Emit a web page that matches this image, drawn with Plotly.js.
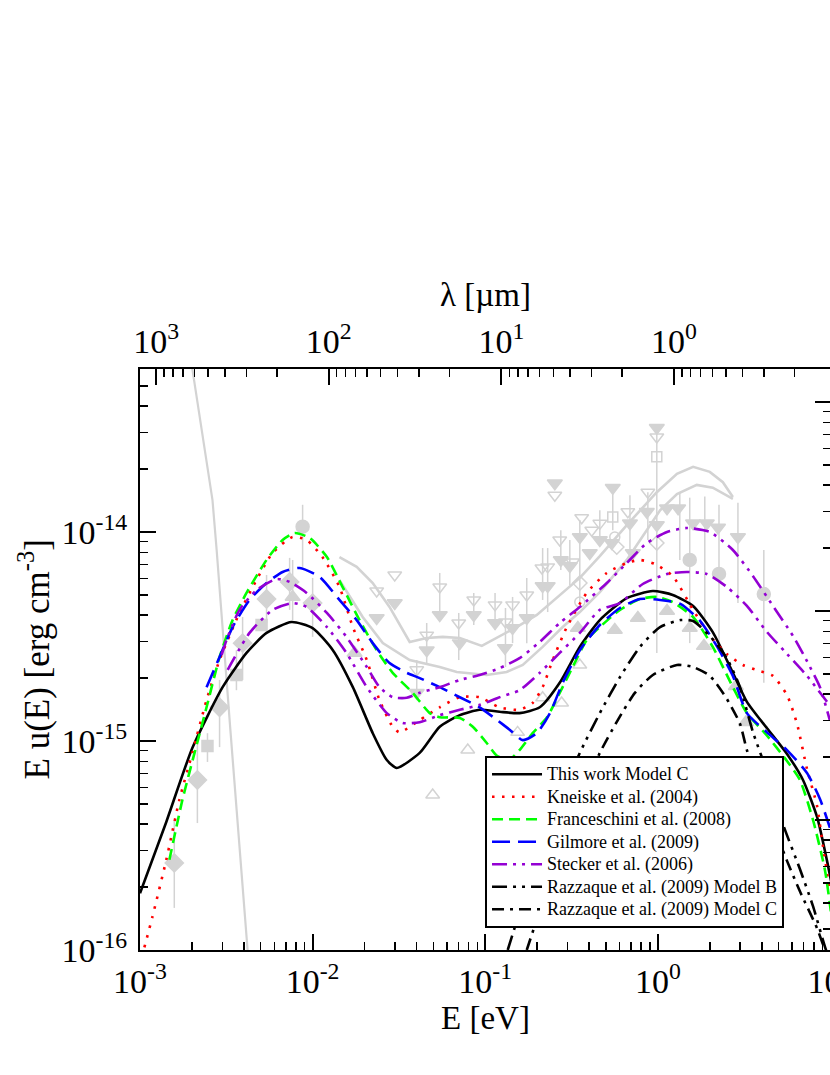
<!DOCTYPE html>
<html>
<head>
<meta charset="utf-8">
<script src="https://cdn.plot.ly/plotly-3.0.1.min.js"></script>
<style>
  html, body { margin: 0; padding: 0; background: #fff; overflow: hidden; }
  #ebl { width: 860px; height: 1075px; }
</style>
</head>
<body>
<div id="ebl"></div>
<script>
// model curves: photon energy E [eV] and E u(E) [erg cm^-3]
const eThis = [1.0e-3, 1.42e-3, 2.01e-3, 3.01e-3, 4.14e-3, 5.41e-3, 7.55e-3, 1.0e-2, 1.31e-2, 1.71e-2, 2.23e-2, 2.69e-2, 3.07e-2, 4.17e-2, 5.45e-2, 7.12e-2, 9.29e-2, 0.121, 0.158, 0.207, 0.270, 0.353, 0.461, 0.661, 0.935, 1.22, 1.60, 2.08, 2.72, 3.28, 4.29, 5.60, 6.93, 8.36, 9.55, 10.6];
const uThis = [1.87e-16, 4.10e-16, 9.26e-16, 1.81e-15, 2.64e-15, 3.29e-15, 3.71e-15, 3.47e-15, 2.72e-15, 1.81e-15, 1.09e-15, 8.11e-16, 7.43e-16, 8.77e-16, 1.17e-15, 1.33e-15, 1.41e-15, 1.38e-15, 1.36e-15, 1.45e-15, 1.90e-15, 2.82e-15, 3.79e-15, 4.83e-15, 5.22e-15, 5.00e-15, 4.43e-15, 3.32e-15, 2.12e-15, 1.54e-15, 1.15e-15, 8.67e-16, 6.51e-16, 4.33e-16, 2.67e-16, 1.73e-16];

const eKneiske = [1.06e-3, 1.18e-3, 1.42e-3, 1.69e-3, 2.01e-3, 2.43e-3, 2.89e-3, 3.77e-3, 4.73e-3, 5.86e-3, 7.66e-3, 9.23e-3, 1.14e-2, 1.43e-2, 1.71e-2, 2.06e-2, 2.44e-2, 2.91e-2, 3.19e-2, 4.17e-2, 5.45e-2, 7.12e-2, 9.29e-2, 0.121, 0.158, 0.188, 0.215, 0.246, 0.297, 0.387, 0.506, 0.661, 0.787, 0.961, 1.22, 1.60, 2.00, 2.51, 3.11, 3.90, 4.64, 5.60, 6.40, 7.31, 8.36, 9.06, 9.93];
const uKneiske = [1.03e-16, 1.44e-16, 2.70e-16, 5.22e-16, 8.77e-16, 1.57e-15, 2.44e-15, 4.10e-15, 5.89e-15, 7.94e-15, 9.47e-15, 9.16e-15, 7.59e-15, 5.46e-15, 3.51e-15, 2.44e-15, 1.57e-15, 1.17e-15, 1.10e-15, 1.26e-15, 1.45e-15, 1.62e-15, 1.62e-15, 1.45e-15, 1.41e-15, 1.52e-15, 1.81e-15, 2.44e-15, 3.51e-15, 5.11e-15, 6.37e-15, 7.11e-15, 7.35e-15, 7.03e-15, 6.15e-15, 4.24e-15, 3.18e-15, 2.61e-15, 2.31e-15, 2.16e-15, 2.05e-15, 1.66e-15, 1.21e-15, 7.35e-16, 4.89e-16, 3.11e-16, 1.91e-16];

const eFranceschini = [1.48e-3, 1.76e-3, 2.07e-3, 2.43e-3, 2.89e-3, 3.44e-3, 4.14e-3, 5.41e-3, 6.70e-3, 7.87e-3, 9.62e-3, 1.21e-2, 1.49e-2, 1.87e-2, 2.35e-2, 2.91e-2, 3.80e-2, 4.77e-2, 5.45e-2, 7.12e-2, 8.47e-2, 0.102, 0.117, 0.139, 0.158, 0.188, 0.228, 0.270, 0.321, 0.387, 0.461, 0.603, 0.787, 0.986, 1.22, 1.60, 2.08, 2.72, 3.28, 4.29, 5.60, 6.65, 7.92, 9.29, 10.2];
const uFranceschini = [2.70e-16, 5.22e-16, 8.77e-16, 1.45e-15, 2.52e-15, 3.79e-15, 5.11e-15, 7.35e-15, 9.16e-15, 9.89e-15, 9.36e-15, 7.59e-15, 5.46e-15, 3.79e-15, 2.72e-15, 2.12e-15, 1.70e-15, 1.36e-15, 1.30e-15, 1.29e-15, 1.17e-15, 9.78e-16, 8.5e-16, 8.2e-16, 9.05e-16, 1.09e-15, 1.30e-15, 1.70e-15, 2.26e-15, 3.04e-15, 3.51e-15, 4.24e-15, 4.78e-15, 4.89e-15, 4.62e-15, 3.92e-15, 2.82e-15, 1.81e-15, 1.36e-15, 1.06e-15, 8.02e-16, 6.51e-16, 4.19e-16, 2.41e-16, 1.39e-16];

const eGilmore = [2.43e-3, 2.89e-3, 3.44e-3, 4.31e-3, 5.41e-3, 6.70e-3, 8.41e-3, 1.10e-2, 1.43e-2, 1.80e-2, 2.23e-2, 2.79e-2, 3.51e-2, 4.17e-2, 5.45e-2, 7.12e-2, 9.29e-2, 0.117, 0.139, 0.165, 0.199, 0.237, 0.281, 0.353, 0.461, 0.603, 0.787, 1.03, 1.35, 1.76, 2.21, 2.72, 3.28, 4.29, 5.60, 7.31, 8.69, 9.93];
const uGilmore = [1.81e-15, 2.52e-15, 3.51e-15, 4.73e-15, 5.70e-15, 6.44e-15, 6.73e-15, 6.09e-15, 4.73e-15, 3.79e-15, 2.94e-15, 2.36e-15, 2.12e-15, 2.00e-15, 1.81e-15, 1.62e-15, 1.45e-15, 1.26e-15, 1.13e-15, 1.01e-15, 1.09e-15, 1.36e-15, 1.90e-15, 2.72e-15, 3.59e-15, 4.33e-15, 4.78e-15, 4.73e-15, 4.53e-15, 3.75e-15, 2.82e-15, 2.05e-15, 1.36e-15, 1.10e-15, 9.05e-16, 7.03e-16, 5.28e-16, 3.84e-16];

const eSteckerHigh = [2.97e-3, 3.17e-3, 3.77e-3, 4.73e-3, 6.18e-3, 7.36e-3, 9.23e-3, 1.21e-2, 1.57e-2, 2.06e-2, 2.44e-2, 2.91e-2, 3.51e-2, 4.17e-2, 5.45e-2, 7.12e-2, 9.29e-2, 0.121, 0.158, 0.207, 0.270, 0.353, 0.506, 0.661, 0.863, 1.13, 1.47, 2.00, 2.72, 3.56, 4.64, 6.07, 7.31, 8.69, 9.93];
const uSteckerHigh = [2.58e-15, 3.04e-15, 4.24e-15, 5.27e-15, 5.96e-15, 5.77e-15, 5.11e-15, 4.10e-15, 3.15e-15, 2.26e-15, 1.81e-15, 1.62e-15, 1.61e-15, 1.70e-15, 1.81e-15, 1.96e-15, 2.07e-15, 2.23e-15, 2.49e-15, 2.98e-15, 3.67e-15, 4.38e-15, 5.70e-15, 7.11e-15, 8.86e-15, 1.0e-14, 1.045e-14, 1.0e-14, 8.20e-15, 6.15e-15, 4.43e-15, 3.18e-15, 2.41e-15, 1.81e-15, 1.25e-15];

const eSteckerLow = [3.22e-3, 4.31e-3, 5.86e-3, 7.66e-3, 9.23e-3, 1.21e-2, 1.57e-2, 2.06e-2, 2.69e-2, 3.32e-2, 4.17e-2, 5.45e-2, 7.12e-2, 9.29e-2, 0.121, 0.158, 0.207, 0.270, 0.353, 0.461, 0.603, 0.818, 1.13, 1.47, 1.92, 2.51, 3.28, 4.29, 5.60, 7.31, 9.55];
const uSteckerLow = [2.19e-15, 3.29e-15, 4.24e-15, 4.57e-15, 4.38e-15, 3.51e-15, 2.64e-15, 1.81e-15, 1.36e-15, 1.22e-15, 1.23e-15, 1.33e-15, 1.41e-15, 1.49e-15, 1.62e-15, 1.75e-15, 2.12e-15, 2.64e-15, 3.29e-15, 4.24e-15, 4.57e-15, 5.64e-15, 6.30e-15, 6.44e-15, 6.30e-15, 5.46e-15, 4.43e-15, 3.32e-15, 2.61e-15, 2.05e-15, 1.54e-15];

const eRazzaqueB = [0.135, 0.181, 0.253, 0.353, 0.461, 0.603, 0.787, 1.03, 1.35, 1.60, 2.00, 2.51, 2.99, 3.56, 4.46, 5.30, 6.65, 7.92, 9.42, 10.2];
const uRazzaqueB = [1.0e-16, 2.16e-16, 4.68e-16, 8.77e-16, 1.36e-15, 2.02e-15, 2.82e-15, 3.51e-15, 3.79e-15, 3.75e-15, 3.18e-15, 2.49e-15, 1.81e-15, 1.10e-15, 6.51e-16, 4.01e-16, 2.44e-16, 1.62e-16, 1.0e-16, 8.5e-17];

const eRazzaqueC = [0.174, 0.237, 0.330, 0.461, 0.586, 0.736, 0.935, 1.29, 1.60, 2.00, 2.51, 2.99, 3.28, 3.90, 4.64, 5.60, 6.65, 8.36, 9.93];
const uRazzaqueC = [1.0e-16, 2.16e-16, 4.68e-16, 8.77e-16, 1.26e-15, 1.70e-15, 2.07e-15, 2.31e-15, 2.26e-15, 2.05e-15, 1.59e-15, 1.21e-15, 9.05e-16, 6.03e-16, 4.01e-16, 2.67e-16, 1.91e-16, 1.27e-16, 8.5e-17];

// grey: CMB tail and the two upper-limit curves
const eCMB = [1.94e-3, 2.01e-3, 2.63e-3, 2.78e-3, 3.35e-3, 4.20e-3];
const uCMB = [7.85e-14, 6.03e-14, 1.42e-14, 8.20e-15, 1.09e-15, 1.0e-16];
const eLimA = [1.43e-2, 1.80e-2, 2.23e-2, 2.79e-2, 3.65e-2, 4.58e-2, 5.67e-2, 7.12e-2, 9.55e-2, 0.117, 0.152, 0.199, 0.259, 0.353, 0.461, 0.661, 0.986, 1.29, 1.60, 2.00, 2.38, 2.72];
const uLimA = [7.59e-15, 6.81e-15, 5.70e-15, 4.38e-15, 2.98e-15, 3.11e-15, 3.15e-15, 3.11e-15, 2.85e-15, 3.11e-15, 3.51e-15, 4.01e-15, 4.83e-15, 6.03e-15, 7.67e-15, 1.08e-14, 1.55e-14, 1.90e-14, 2.05e-14, 1.94e-14, 1.73e-14, 1.47e-14];
const eLimB = [1.43e-2, 1.95e-2, 2.55e-2, 3.65e-2, 5.45e-2, 6.84e-2, 0.102, 0.133, 0.165, 0.215, 0.281, 0.353, 0.461, 0.661, 1.03, 1.29, 1.68, 2.08, 2.72];
const uLimB = [5.89e-15, 3.92e-15, 2.94e-15, 2.44e-15, 2.26e-15, 2.14e-15, 2.07e-15, 2.14e-15, 2.31e-15, 2.82e-15, 3.51e-15, 4.14e-15, 5.16e-15, 7.35e-15, 1.27e-14, 1.52e-14, 1.68e-14, 1.63e-14, 1.44e-14];

// grey measurements
const eCircle = [8.75e-3, 1.53, 2.26, 4.11];
const uCircle = [1.06e-14, 7.35e-15, 6.30e-15, 5.05e-15];
const eDiamond = [1.58e-3, 2.15e-3, 2.89e-3, 3.93e-3, 5.41e-3, 7.36e-3, 1.00e-2];
const uDiamond = [2.61e-16, 6.51e-16, 1.45e-15, 2.94e-15, 4.78e-15, 5.77e-15, 4.57e-15];
const eSquare = [2.46e-3, 3.62e-3, 5.06e-3];
const uSquare = [9.46e-16, 2.07e-15, 3.59e-15];
const eTriUp = [7.66e-3, 1.75e-2, 0.344, 0.563, 0.766, 1.13, 1.53, 1.85, 2.83, 3.24];
const uTriUp = [4.89e-15, 2.64e-15, 3.47e-15, 3.40e-15, 3.88e-15, 4.19e-15, 3.47e-15, 2.85e-15, 1.83e-15, 1.23e-15];
const eTriUpOpen = [4.96e-2, 7.92e-2, 0.154, 0.215, 0.277, 0.353];
const uTriUpOpen = [5.52e-16, 9.05e-16, 1.10e-15, 1.61e-15, 1.52e-15, 2.31e-15];
const eTriDown = [2.35e-2, 2.99e-2, 4.01e-2, 4.58e-2, 5.45e-2, 7.12e-2, 8.58e-2, 0.114, 0.130, 0.144, 0.174, 0.215, 0.230, 0.274, 0.309, 0.253, 0.548, 0.986, 0.353, 0.403, 0.461, 0.541, 0.689, 0.716, 0.863, 0.986, 1.13, 1.31, 1.60, 1.92, 2.23, 2.91];
const uTriDown = [3.88e-15, 4.57e-15, 1.70e-15, 2.72e-15, 4.01e-15, 2.94e-15, 4.01e-15, 3.67e-15, 2.79e-15, 3.47e-15, 3.88e-15, 5.52e-15, 5.52e-15, 7.35e-15, 6.88e-15, 1.71e-14, 1.63e-14, 3.15e-14, 9.47e-15, 7.94e-15, 9.16e-15, 8.86e-15, 1.10e-14, 7.94e-15, 1.25e-14, 1.08e-14, 1.30e-14, 1.30e-14, 1.10e-14, 1.10e-14, 1.05e-14, 9.47e-15];
const eTriDownOpen = [2.99e-2, 2.35e-2, 5.45e-2, 4.58e-2, 4.01e-2, 7.02e-2, 8.58e-2, 0.114, 0.131, 0.144, 0.174, 0.213, 0.230, 0.270, 0.321, 0.253, 0.986, 0.362, 0.414, 0.461, 0.670, 0.875];
const uTriDownOpen = [6.23e-15, 5.22e-15, 5.46e-15, 3.21e-15, 2.19e-15, 3.67e-15, 4.73e-15, 4.48e-15, 3.71e-15, 4.48e-15, 5.00e-15, 6.73e-15, 6.81e-15, 9.16e-15, 7.18e-15, 1.50e-14, 2.85e-14, 1.17e-14, 1.02e-14, 1.10e-14, 1.25e-14, 1.55e-14];
const eSquareOpen = [0.986, 0.548];
const uSquareOpen = [2.29e-14, 1.18e-14];
const eDiamondOpen = [0.986, 0.578, 0.353];
const uDiamondOpen = [8.86e-15, 8.47e-15, 5.70e-15];
const eCircleOpen = [0.353, 0.563];
const uCircleOpen = [4.62e-15, 9.47e-15];

// vertical error bars (top / bottom)
const eBar = [8.75e-3, 1.58e-3, 2.15e-3, 2.89e-3, 3.93e-3, 5.41e-3, 7.36e-3, 1.00e-2, 2.46e-3, 3.62e-3, 7.66e-3, 4.58e-2, 5.45e-2, 7.02e-2, 8.58e-2, 0.114, 0.131, 0.144, 0.174, 0.215, 0.230, 0.274, 0.309, 4.01e-2, 0.986, 0.548, 0.353, 0.461, 0.689, 0.875, 1.53, 2.26, 4.11, 1.87, 2.91, 1.34];
const uBarHi = [1.35e-14, 4.19e-16, 1.09e-15, 1.96e-15, 3.92e-15, 6.23e-15, 7.52e-15, 6.03e-15, 1.09e-15, 2.72e-15, 7.35e-15, 3.67e-15, 6.37e-15, 4.10e-15, 5.11e-15, 5.11e-15, 4.33e-15, 4.89e-15, 6.03e-15, 8.38e-15, 8.38e-15, 1.02e-14, 9.16e-15, 2.44e-15, 3.18e-14, 1.63e-14, 1.14e-14, 1.27e-14, 1.50e-14, 1.55e-14, 1.46e-14, 1.35e-14, 8.20e-15, 1.48e-14, 1.38e-14, 1.54e-14];
const uBarLo = [6.81e-15, 1.59e-16, 4.05e-16, 9.35e-16, 1.96e-15, 3.67e-15, 4.24e-15, 3.15e-15, 7.94e-16, 1.75e-15, 3.79e-15, 2.31e-15, 3.92e-15, 2.44e-15, 3.59e-15, 3.40e-15, 2.26e-15, 2.94e-15, 2.94e-15, 4.73e-15, 4.14e-15, 6.58e-15, 5.57e-15, 1.57e-15, 2.64e-15, 1.02e-14, 4.62e-15, 8.67e-15, 7.35e-15, 9.16e-15, 2.94e-15, 2.94e-15, 1.90e-15, 3.79e-15, 4.57e-15, 7.35e-15];

// axis ticks
const eTicks = [1e-3, 1e-2, 1e-1, 1, 10];
const eTickText = ['10<sup>-3</sup>', '10<sup>-2</sup>', '10<sup>-1</sup>', '10<sup>0</sup>', '10<sup>1</sup>'];
const eMinor = [2e-3, 3e-3, 4e-3, 5e-3, 6e-3, 7e-3, 8e-3, 9e-3, 2e-2, 3e-2, 4e-2, 5e-2, 6e-2, 7e-2, 8e-2, 9e-2, 0.2, 0.3, 0.4, 0.5, 0.6, 0.7, 0.8, 0.9, 2, 3, 4, 5, 6, 7, 8, 9];
const lamTicks = [1000, 100, 10, 1];
const lamTickText = ['10<sup>3</sup>', '10<sup>2</sup>', '10<sup>1</sup>', '10<sup>0</sup>'];
const lamMinor = [900, 800, 700, 600, 500, 400, 300, 200, 90, 80, 70, 60, 50, 40, 30, 20, 9, 8, 7, 6, 5, 4, 3, 2, 0.9, 0.8, 0.7, 0.6, 0.5, 0.4, 0.3, 0.2];
const uTicks = [1e-16, 1e-15, 1e-14];
const uTickText = ['10<sup>-16</sup>', '10<sup>-15</sup>', '10<sup>-14</sup>'];
const uMinor = [2e-16, 3e-16, 4e-16, 5e-16, 6e-16, 7e-16, 8e-16, 9e-16, 2e-15, 3e-15, 4e-15, 5e-15, 6e-15, 7e-15, 8e-15, 9e-15, 2e-14, 3e-14, 4e-14, 5e-14];
const nwTicks = [1, 10, 100];
const nwMinor = [0.3, 0.4, 0.5, 0.6, 0.7, 0.8, 0.9, 2, 3, 4, 5, 6, 7, 8, 9, 20, 30, 40, 50, 60, 70, 80, 90];

const GREY = '#d3d3d3';
const FONT = '"Liberation Serif", serif';

// legend rows are spaced by the legend font size, the text itself is drawn a bit larger
function legendName(text) {
  return '<span style="font-size:18px">' + text + '</span>';
}

function curve(x, y, name, color, dash, extra) {
  return Object.assign({
    x: x, y: y, name: legendName(name), type: 'scatter', mode: 'lines',
    line: {color: color, width: 2.6, dash: dash, shape: 'spline', smoothing: 0.6},
    hoverinfo: 'skip',
  }, extra || {});
}

function greyMarks(x, y, symbol, size) {
  return {
    x: x, y: y, type: 'scatter', mode: 'markers', showlegend: false, hoverinfo: 'skip',
    marker: {symbol: symbol, size: size, color: GREY, line: {color: GREY, width: 1.5}},
  };
}

function greyLine(x, y, width) {
  return {x: x, y: y, type: 'scatter', mode: 'lines', showlegend: false, hoverinfo: 'skip',
    line: {color: GREY, width: width}};
}

function drawChart() {
  let barX = [];
  let barY = [];
  eBar.forEach((e, i) => {
    barX.push(e, e, null);
    barY.push(uBarHi[i], uBarLo[i], null);
  });

  let grey = [
    greyLine(barX, barY, 1.5),
    greyLine(eCMB, uCMB, 2.2),
    greyLine(eLimA, uLimA, 2.6),
    greyLine(eLimB, uLimB, 2.6),
    greyMarks(eCircle, uCircle, 'circle', 13),
    greyMarks(eDiamond, uDiamond, 'diamond', 14),
    greyMarks(eSquare, uSquare, 'square', 11),
    greyMarks(eTriUp, uTriUp, 'triangle-up', 13),
    greyMarks(eTriUpOpen, uTriUpOpen, 'triangle-up-open', 12),
    greyMarks(eTriDown, uTriDown, 'triangle-down', 13),
    greyMarks(eTriDownOpen, uTriDownOpen, 'triangle-down-open', 12),
    greyMarks(eSquareOpen, uSquareOpen, 'square-open', 10),
    greyMarks(eDiamondOpen, uDiamondOpen, 'diamond-open', 11),
    greyMarks(eCircleOpen, uCircleOpen, 'circle-open', 10),
  ];

  let models = [
    curve(eThis, uThis, 'This work Model C', '#000000', 'solid'),
    curve(eKneiske, uKneiske, 'Kneiske et al. (2004)', '#ff0000', '2.5px,7.5px'),
    curve(eFranceschini, uFranceschini, 'Franceschini et al. (2008)', '#00ff00', '11px,6px'),
    curve(eGilmore, uGilmore, 'Gilmore et al. (2009)', '#0000ff', '18px,8px'),
    curve(eSteckerHigh, uSteckerHigh, 'Stecker et al. (2006)', '#9400d3', '15px,6px,3px,6px,3px,6px', {legendgroup: 'stecker'}),
    curve(eSteckerLow, uSteckerLow, 'Stecker et al. (2006)', '#9400d3', '15px,6px,3px,6px,3px,6px', {legendgroup: 'stecker', showlegend: false}),
    curve(eRazzaqueB, uRazzaqueB, 'Razzaque et al. (2009) Model B', '#000000', '15px,6px,3px,6px,3px,6px'),
    curve(eRazzaqueC, uRazzaqueC, 'Razzaque et al. (2009) Model C', '#000000', '12px,6px,3px,6px'),
  ];

  // carrier for the wavelength / intensity axes
  let carrier = {x: [1], y: [1], xaxis: 'x2', yaxis: 'y2', type: 'scatter', mode: 'markers',
    marker: {opacity: 0}, showlegend: false, hoverinfo: 'skip'};

  let axisBase = {
    type: 'log', showgrid: false, zeroline: false, showline: true, linecolor: '#000', linewidth: 2,
    ticks: 'inside', ticklen: 16, tickwidth: 2, tickcolor: '#000',
    tickfont: {family: FONT, size: 34, color: '#000'},
  };
  let minorBase = {tickmode: 'array', ticks: 'inside', ticklen: 8, tickwidth: 1.5, tickcolor: '#000', showgrid: false};

  let layout = {
    width: 860, height: 1075,
    margin: {l: 140, r: 29, t: 369, b: 125},
    paper_bgcolor: '#fff', plot_bgcolor: '#fff',
    font: {family: FONT, color: '#000'},
    showlegend: true,
    legend: {
      x: 0.4993, y: 0.334, xanchor: 'left', yanchor: 'top',
      bgcolor: '#fff', bordercolor: '#000', borderwidth: 2,
      font: {family: FONT, size: 15, color: '#000'},
      itemwidth: 50, tracegroupgap: 0,
    },
    xaxis: Object.assign({}, axisBase, {
      range: [-3, 1.003], tickmode: 'array', tickvals: eTicks, ticktext: eTickText,
      minor: Object.assign({}, minorBase, {tickvals: eMinor}),
      title: {text: 'E [eV]', font: {family: FONT, size: 33}, standoff: 4},
    }),
    xaxis2: Object.assign({}, axisBase, {
      overlaying: 'x', side: 'top', anchor: 'y',
      range: [3.0934, -0.9096], tickmode: 'array', tickvals: lamTicks, ticktext: lamTickText,
      minor: Object.assign({}, minorBase, {tickvals: lamMinor}),
      title: {text: 'λ [µm]', font: {family: FONT, size: 33}, standoff: 2},
    }),
    yaxis: Object.assign({}, axisBase, {
      range: [-16, -13.22], tickmode: 'array', tickvals: uTicks, ticktext: uTickText,
      minor: Object.assign({}, minorBase, {tickvals: uMinor}),
      ticklabelstandoff: 4,
    }),
    yaxis2: Object.assign({}, axisBase, {
      overlaying: 'y', side: 'right', anchor: 'x',
      range: [-0.6222, 2.158], tickmode: 'array', tickvals: nwTicks, showticklabels: false,
      minor: Object.assign({}, minorBase, {tickvals: nwMinor}),
    }),
    annotations: [{
      text: 'E u(E) [erg cm<sup>-3</sup>]', textangle: -90, showarrow: false,
      xref: 'paper', yref: 'paper', x: -0.152, y: 0.5, xanchor: 'center', yanchor: 'middle',
      font: {family: FONT, size: 35, color: '#000'},
    }],
  };

  Plotly.newPlot('ebl', grey.concat(models, [carrier]), layout, {displayModeBar: false, staticPlot: true});
}

drawChart();
</script>
</body>
</html>
